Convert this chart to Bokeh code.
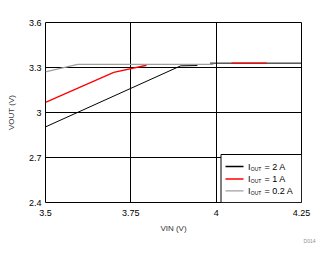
import math
from bokeh.plotting import figure
from bokeh.models import Range1d, FixedTicker, Label, BoxAnnotation, Arrow, Title
from bokeh.embed import file_html
from bokeh.resources import INLINE

nan = float("nan")

# data
vin_2a = [3.5, 3.896, 3.945, nan, 3.982, 4.25]
vout_2a = [2.904, 3.311, 3.313, nan, 3.329, 3.329]
vin_1a = [3.5, 3.70, 3.796, nan, 4.045, 4.148]
vout_1a = [3.067, 3.267, 3.315, nan, 3.329, 3.329]
vin_02a = [3.5, 3.594, 3.992]
vout_02a = [3.271, 3.321, 3.321]
series_labels = ["= 2 A", "= 1 A", "= 0.2 A"]
series_colors = ["#000000", "#FF0000", "#A0A0A0"]
x_ticks = [3.5, 3.75, 4.0, 4.25]
x_tick_labels = ["3.5", "3.75", "4", "4.25"]
y_ticks = [2.4, 2.7, 3.0, 3.3, 3.6]
y_tick_labels = ["2.4", "2.7", "3", "3.3", "3.6"]
x_title = "VIN (V)"
y_title = "VOUT (V)"
figure_id = "D014"

FONT = "Liberation Sans"
L, R, T, B = 45, 28, 22, 52
W, H = 329, 254
FW, FH = W - L - R, H - T - B

p = figure(width=W, height=H, output_backend="svg", toolbar_location=None,
           x_range=Range1d(x_ticks[0], x_ticks[-1]),
           y_range=Range1d(y_ticks[0], y_ticks[-1]),
           min_border_left=L, min_border_right=R, min_border_top=T, min_border_bottom=B)
p.background_fill_color = "white"
p.border_fill_color = "white"
p.outline_line_color = "black"
p.outline_line_width = 1

for ax, ticks, labels in ((p.xaxis[0], x_ticks, x_tick_labels), (p.yaxis[0], y_ticks, y_tick_labels)):
    ax.ticker = FixedTicker(ticks=ticks)
    ax.major_label_overrides = {t: s for t, s in zip(ticks, labels)}
    ax.axis_line_color = None
    ax.major_tick_line_color = None
    ax.minor_tick_line_color = None
    ax.major_tick_out = 0
    ax.major_tick_in = 0
    ax.major_label_text_font = FONT
    ax.major_label_text_font_size = "9px"
    ax.major_label_text_color = "black"
    ax.axis_label_text_font = FONT
    ax.axis_label_text_font_size = "8px"
    ax.axis_label_text_font_style = "normal"
    ax.axis_label_text_color = "#333333"
p.xaxis.major_label_standoff = 7
p.yaxis.major_label_standoff = 4
p.xaxis.axis_label = x_title
p.yaxis.axis_label = y_title
p.xaxis.axis_label_standoff = 5
p.yaxis.axis_label_standoff = 10

p.add_layout(Title(text=figure_id, align="right", offset=-14, text_font=FONT,
                   text_font_size="5px", text_font_style="normal",
                   text_color="#909090", standoff=0), "below")

p.xgrid.ticker = FixedTicker(ticks=x_ticks)
p.ygrid.ticker = FixedTicker(ticks=y_ticks)
p.grid.grid_line_color = "black"
p.grid.grid_line_width = 1
p.grid.grid_line_alpha = 1

p.line(vin_2a, vout_2a, line_color=series_colors[0], line_width=1)
p.line(vin_1a, vout_1a, line_color=series_colors[1], line_width=1.3)
p.line(vin_02a, vout_02a, line_color=series_colors[2], line_width=1.3)

x0, x1 = x_ticks[0], x_ticks[-1]
y0, y1 = y_ticks[0], y_ticks[-1]

def px2x(px):
    return x0 + (px - L) / FW * (x1 - x0)

def py2y(py):
    return y1 - (py - T) / FH * (y1 - y0)

def lab(text, px, py, size="9px", color="black", align="left", baseline="middle", angle=0.0):
    p.add_layout(Label(x=x0, y=y0, x_offset=px - L, y_offset=(T + FH) - py, text=text,
                       text_font=FONT, text_font_size=size, text_color=color,
                       text_align=align, text_baseline=baseline, angle=angle))

# legend
p.add_layout(BoxAnnotation(left=px2x(220.5), right=x1, top=py2y(154), bottom=y0,
                           fill_color="white", fill_alpha=1, line_color="black",
                           line_width=1, line_alpha=1, level="annotation"))
rows = [166, 178.5, 190.3]
for c, txt, ry in zip(series_colors, series_labels, rows):
    p.add_layout(Arrow(x_start=px2x(225), x_end=px2x(243), y_start=py2y(ry), y_end=py2y(ry),
                       start=None, end=None, line_color=c, line_width=1.3))
    lab("I", 247.5, ry)
    lab("OUT", 250.3, ry + 2, size="5px")
    lab(txt, 264, ry)

open("out.html", "w").write(file_html(p, INLINE))
